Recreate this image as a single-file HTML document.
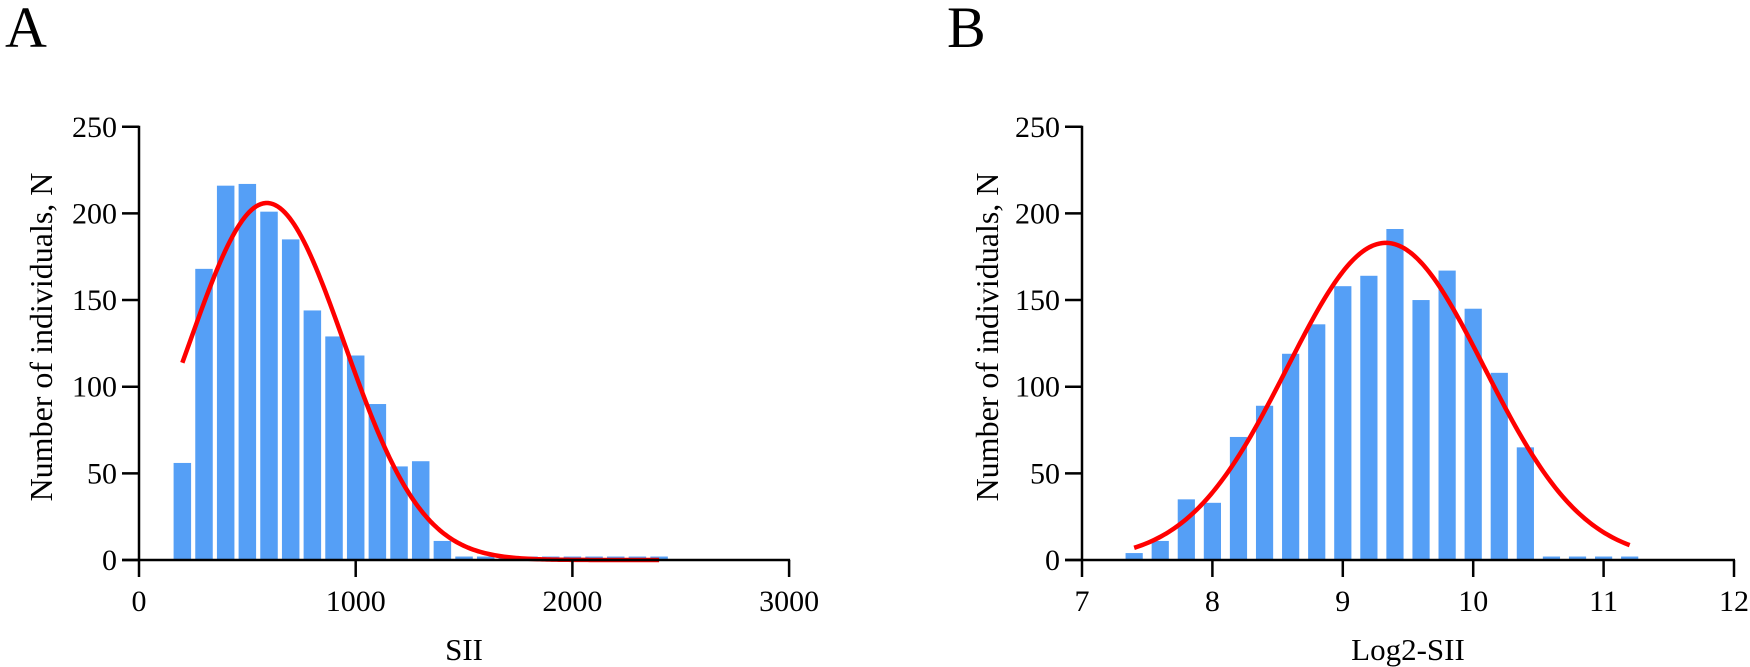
<!DOCTYPE html>
<html><head><meta charset="utf-8"><style>
html,body{margin:0;padding:0;background:#fff;}
svg{display:block;font-family:"Liberation Serif",serif;}
</style></head><body>
<svg id="chart" width="1750" height="667" viewBox="0 0 1750 667" xmlns="http://www.w3.org/2000/svg"></svg>
<script>
// Panel A data
const binsA = [200,300,400,500,600,700,800,900,1000,1100,1200,1300,1400,1500,1600,1700,1800,1900,2000,2100,2200,2300,2400];
const countsA = [56,168,216,217,201,185,144,129,118,90,54,57,11,2,2,2,2,2,2,2,2,2,2];
const xTicksA = [0,1000,2000,3000];
const fitA = [590,358,206]; // mean, sd, peak
const rangeA = [200,2400];
// Panel B data
const binsB = [7.4,7.6,7.8,8.0,8.2,8.4,8.6,8.8,9.0,9.2,9.4,9.6,9.8,10.0,10.2,10.4,10.6,10.8,11.0,11.2];
const countsB = [4,11,35,33,71,89,119,136,158,164,191,150,167,145,108,65,2,2,2,2];
const xTicksB = [7,8,9,10,11,12];
const fitB = [9.33,0.756,183];
const rangeB = [7.4,11.2];
const yTicks = [0,50,100,150,200,250];

const NS="http://www.w3.org/2000/svg";
const svg=document.getElementById('chart');
function mk(tag,attrs,parent){const e=document.createElementNS(NS,tag);for(const k in attrs)e.setAttribute(k,attrs[k]);(parent||svg).appendChild(e);return e;}

function panel(o){
  const g=mk('g',{});
  
  
  const y0=560, yPer=1.733;
  const sy=v=>y0-v*yPer;
  const sx=v=>o.x0+(v-o.xmin)*o.xPer;
  const xEnd=sx(o.xTicks[o.xTicks.length-1]);
  o.bins.forEach((b,i)=>{
    const r=mk('rect',{x:sx(b)-o.bw/2,y:sy(o.counts[i]),width:o.bw,height:o.counts[i]*yPer,fill:'#559ff6'},g);
    
    
  });
  let d='';const n=200;
  for(let k=0;k<=n;k++){const v=o.range[0]+(o.range[1]-o.range[0])*k/n;
    const c=o.fit[2]*Math.exp(-Math.pow(v-o.fit[0],2)/(2*o.fit[1]*o.fit[1]));
    d+=(k?'L':'M')+sx(v).toFixed(2)+','+sy(c).toFixed(2);}
  const p=mk('path',{d:d,fill:'none',stroke:'#ff0000','stroke-width':4.5},g);
  
  
  const ya=mk('line',{x1:o.x0,y1:sy(250)-1,x2:o.x0,y2:y0,stroke:'#000','stroke-width':2.5},g);
  
  
  const xa=mk('line',{x1:o.x0-17,y1:y0,x2:xEnd+1,y2:y0,stroke:'#000','stroke-width':2.5},g);
  
  
  yTicks.forEach(t=>{
    mk('line',{x1:o.x0-17,y1:sy(t),x2:o.x0,y2:sy(t),stroke:'#000','stroke-width':2.5},g);
    const tx=mk('text',{x:o.x0-22,y:sy(t)+10,'text-anchor':'end','font-size':30},g);
    tx.textContent=t;
    
    
  });
  o.xTicks.forEach(t=>{
    mk('line',{x1:sx(t),y1:y0,x2:sx(t),y2:y0+17,stroke:'#000','stroke-width':2.5},g);
    const tx=mk('text',{x:sx(t),y:611,'text-anchor':'middle','font-size':30},g);
    tx.textContent=t;
    
    
  });
  const xt=mk('text',{x:(o.x0+xEnd)/2,y:660,'text-anchor':'middle','font-size':31},g);
  xt.textContent=o.xTitle;
  
  
  const yt=mk('text',{x:0,y:0,'text-anchor':'middle','font-size':32,transform:'translate('+(o.yTitleX)+',337) rotate(-90)'},g);
  yt.textContent='Number of individuals, N';
  
  
  const lb=mk('text',{x:o.labelX,y:47,'font-size':58},g);
  lb.textContent=o.id;
  
  
}
panel({id:'A',x0:139,xmin:0,xPer:0.2167,bw:17.5,bins:binsA,counts:countsA,xTicks:xTicksA,fit:fitA,range:rangeA,xTitle:'SII',yTitleX:52,labelX:5});
panel({id:'B',x0:1082,xmin:7,xPer:130.4,bw:17.2,bins:binsB,counts:countsB,xTicks:xTicksB,fit:fitB,range:rangeB,xTitle:'Log2-SII',yTitleX:998,labelX:947});
</script>
</body></html>
